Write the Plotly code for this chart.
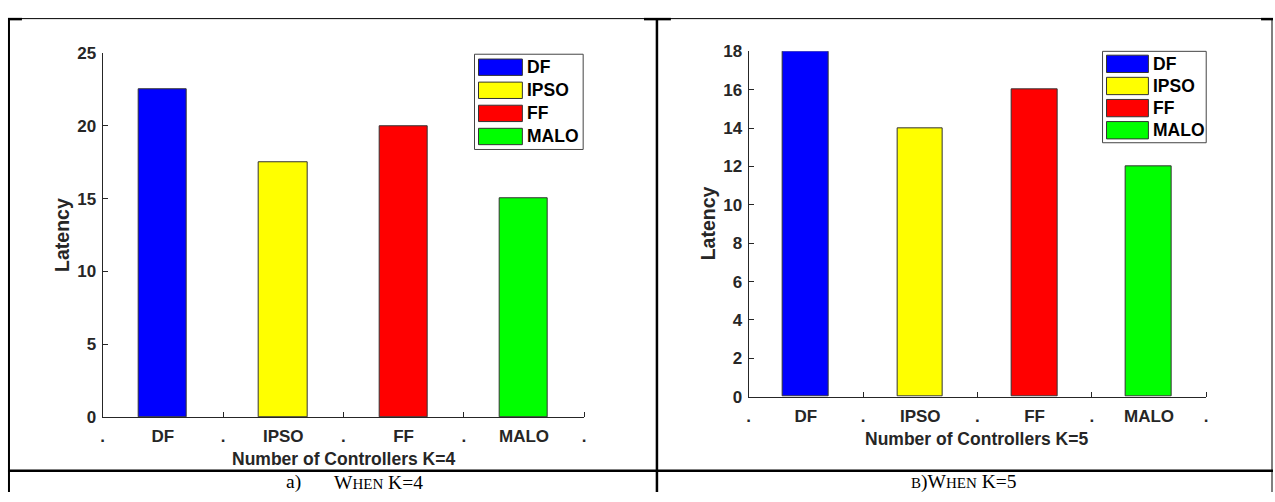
import plotly.graph_objects as go

W, H = 1275, 502

# Data
methods = ["DF", "IPSO", "FF", "MALO"]
colors = ["#0000FF", "#FFFF00", "#FF0000", "#00FF00"]
latency_k4 = [22.5, 17.5, 20, 15]
latency_k5 = [18, 14, 16, 12]
y_ticks_k4 = [0, 5, 10, 15, 20, 25]
y_ticks_k5 = [0, 2, 4, 6, 8, 10, 12, 14, 16, 18]


def px(x):
    return x / W


def py(y):
    return 1 - y / H


AX = "#262626"
SANS = "Liberation Sans, Arial, sans-serif"
SERIF = "Liberation Serif, Times New Roman, serif"

fig = go.Figure()

fig.add_trace(go.Bar(x=list(range(len(methods))), y=latency_k4, marker=dict(color=colors, line=dict(color="#333333", width=1)),
                     width=0.4, xaxis="x", yaxis="y", showlegend=False))
fig.add_trace(go.Bar(x=list(range(len(methods))), y=latency_k5, marker=dict(color=colors, line=dict(color="#333333", width=1)),
                     width=0.4, xaxis="x2", yaxis="y2", showlegend=False))

# x tick labels: "." between categories
xt_vals, xt_text = [], []
for i, m in enumerate(methods):
    xt_vals += [i - 0.5, i]
    xt_text += [".", m]
xt_vals.append(len(methods) - 0.5)
xt_text.append(".")
sep_vals = [i - 0.5 for i in range(len(methods) + 1)]


def xaxis(domain):
    return dict(domain=domain, range=[-0.5, len(methods) - 0.5], tickmode="array", tickvals=xt_vals,
                ticktext=xt_text, ticks="", showline=True, linecolor=AX, linewidth=1, showgrid=False,
                zeroline=False, tickfont=dict(family=SANS, size=17, color=AX, weight="bold"),
                ticklabelstandoff=4,
                minor=dict(tickmode="array", tickvals=sep_vals, ticks="inside", ticklen=5, tickcolor=AX),
                fixedrange=True)


def yaxis(domain, rng, ticks, anchor):
    return dict(domain=domain, range=rng, tickmode="array", tickvals=ticks, ticks="inside", ticklen=5,
                tickcolor=AX, showline=True, linecolor=AX, linewidth=1, showgrid=False, zeroline=False,
                ticklabelstandoff=2,
                tickfont=dict(family=SANS, size=17, color=AX, weight="bold"), anchor=anchor, fixedrange=True)


fig.update_layout(
    width=W, height=H, margin=dict(l=0, r=0, t=0, b=0),
    paper_bgcolor="white", plot_bgcolor="white", bargap=0,
    xaxis=dict(xaxis([px(101), px(584)]), anchor="y"),
    yaxis=yaxis([py(424), py(46)], [0, 25], y_ticks_k4, "x"),
    xaxis2=dict(xaxis([px(749), px(1208)]), anchor="y2"),
    yaxis2=yaxis([py(403), py(44)], [0, 18], y_ticks_k5, "x2"),
)

shapes = []
annotations = []

# Axis titles
for (xc, yc, txt) in [(343, 468, "Number of Controllers K=4"), (978, 447, "Number of Controllers K=5")]:
    annotations.append(dict(x=px(xc), y=py(yc), xref="paper", yref="paper", text=txt, showarrow=False,
                            font=dict(family=SANS, size=17.5, color=AX, weight="bold"), xanchor="center", yanchor="middle"))
for (xc, yc) in [(60, 235), (708, 223)]:
    annotations.append(dict(x=px(xc), y=py(yc), xref="paper", yref="paper", text="Latency", showarrow=False,
                            textangle=-90, font=dict(family=SANS, size=19.5, color=AX, weight="bold"),
                            xanchor="center", yanchor="middle"))

# Legend boxes
for (bx0, bx1, by0, by1, sw0, sw1, row0, step, sh) in [
    (474, 583, 47, 146, 478, 522, 52, 24, 17),
    (1104, 1208, 44, 139, 1108, 1150, 48, 23, 18),
]:
    shapes.append(dict(type="rect", xref="paper", yref="paper", x0=px(bx0), x1=px(bx1), y0=py(by1), y1=py(by0),
                       line=dict(color="#444444", width=1), fillcolor="white", layer="above"))
    for k, (name, col) in enumerate(zip(methods, colors)):
        top = row0 + k * step
        shapes.append(dict(type="rect", xref="paper", yref="paper", x0=px(sw0), x1=px(sw1), y0=py(top + sh),
                           y1=py(top), line=dict(color="#333333", width=1), fillcolor=col, layer="above"))
        annotations.append(dict(x=px(sw1 + 2.5), y=py(top + sh / 2), xref="paper", yref="paper", text=name,
                                showarrow=False, xanchor="left", yanchor="middle",
                                font=dict(family=SANS, size=17.5, color="black", weight="bold")))

# Table frame around the two panels
def line(x0, y0, x1, y1, w):
    shapes.append(dict(type="line", xref="paper", yref="paper", x0=px(x0), y0=py(y0), x1=px(x1), y1=py(y1),
                       line=dict(color="black", width=w)))

line(6, 10, 1275, 10, 1)
line(6, 10.5, 20, 10.5, 2.5)
line(644, 10.5, 671, 10.5, 2.5)
line(1263, 10.5, 1275, 10.5, 2.5)
line(7, 10, 7, 502, 2)
line(657, 10, 657, 502, 2.5)
line(1274, 10, 1274, 502, 1)
line(6, 480, 1275, 480, 2.5)

# Captions (small caps)
SC = "<span style='font-size:15px'>{}</span>"
annotations.append(dict(x=px(283), y=py(492), xref="paper", yref="paper", showarrow=False, xanchor="left",
                        yanchor="middle", font=dict(family=SERIF, size=19.5, color="black"), text="a)"))
annotations.append(dict(x=px(331), y=py(492), xref="paper", yref="paper", showarrow=False, xanchor="left",
                        yanchor="middle", font=dict(family=SERIF, size=19.5, color="black"),
                        text="W" + SC.format("HEN") + " K=4"))
annotations.append(dict(x=px(965), y=py(492), xref="paper", yref="paper", showarrow=False, xanchor="center",
                        yanchor="middle", font=dict(family=SERIF, size=19.5, color="black"),
                        text=SC.format("B") + ")W" + SC.format("HEN") + " K=5"))

fig.update_layout(shapes=shapes, annotations=annotations)

fig.write_html("out.html")
